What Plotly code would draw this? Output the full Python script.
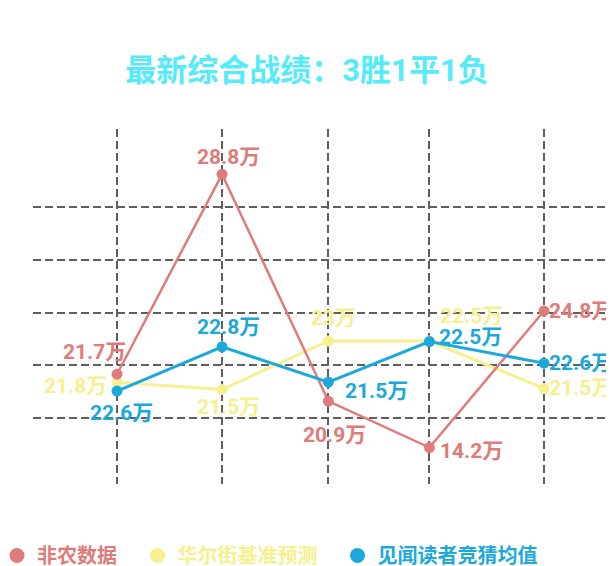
import plotly.graph_objects as go

# ---- data ----
periods = [0, 0.984, 1.98, 2.927, 4]          # release positions along the x axis
series_names = ["非农数据", "华尔街基准预测", "见闻读者竞猜均值"]
nfp_y = [18.3, 56.2, 13.2, 4.4, 30.3]          # plotted level (chart units)
wall_y = [16.8, 15.4, 24.6, 24.6, 15.6]
reader_y = [15.1, 23.5, 16.8, 24.5, 20.4]
nfp_labels = ["21.7万", "28.8万", "20.9万", "14.2万", "24.8万"]
wall_labels = ["21.8万", "21.5万", "23万", "22.5万", "21.5万"]
reader_labels = ["22.6万", "22.8万", "21.5万", "22.5万", "22.6万"]
grid_y = [10, 20, 30, 40, 50]
title_text = "最新综合战绩：3胜1平1负"

# ---- styles ----
RED = "#e07b7b"
YEL = "#f6f08f"
BLU = "#1ba9dc"
TITLE_C = "#55ebf9"
FONT = "Roboto, Noto Sans CJK SC, sans-serif"

# The page body has an 8px margin; the figure is sized to fill the window.
W, H = 606, 558
ML, MR, MT, MB = 25, 0, 121, 82

# label offsets (px) per point: (dx, dy up)
nfp_off = [(-23, 22), (6, 17), (6, -34), (42, -3), (37, 0)]
wall_off = [(-42, -4), (6, -17), (5, 23), (42, 25), (37, 0)]
reader_off = [(4, -22), (6, 20), (48, -9), (41, 5), (37, 0)]

fig = go.Figure()

specs = [
    (series_names[1], wall_y, wall_labels, wall_off, YEL, 3),
    (series_names[0], nfp_y, nfp_labels, nfp_off, RED, 2.5),
    (series_names[2], reader_y, reader_labels, reader_off, BLU, 3),
]
for name, ys, labs, offs, col, lw in specs:
    fig.add_trace(go.Scatter(
        x=periods, y=ys, mode="lines+markers", name=name, legendgroup=name,
        showlegend=False, line=dict(color=col, width=lw),
        marker=dict(color=col, size=11), hoverinfo="skip",
    ))
    for xv, yv, t, (dx, dy) in zip(periods, ys, labs, offs):
        fig.add_annotation(
            x=xv, y=yv, text=f"<b>{t}</b>", showarrow=False,
            xshift=dx, yshift=dy, xanchor="center", yanchor="middle",
            font=dict(family=FONT, size=21, color=col),
        )

# legend-only entries (circle symbols), each in its own legend box
legend_ids = ["legend", "legend2", "legend3"]
legend_x_px = [0, 129.5, 329.5]   # left edge of each legend box, figure px
legend_indent = [-11, 0, 0]
for name, col, lid in zip(series_names, [RED, YEL, BLU], legend_ids):
    fig.add_trace(go.Scatter(
        x=[None], y=[None], mode="markers",
        name=f"<b><span style='color:{col}'>{name}</span></b>",
        legendgroup=name, legend=lid,
        marker=dict(color=col, size=15), showlegend=True,
    ))

leg_common = dict(
    orientation="h", xanchor="left", xref="container",
    y=1 - 547.5 / H, yref="container", yanchor="middle",
    font=dict(family="Noto Sans CJK SC, sans-serif", size=20),
    itemsizing="trace", bgcolor="rgba(0,0,0,0)",
)

fig.update_layout(
    width=W, height=H,
    margin=dict(l=ML, r=MR, t=MT, b=MB),
    paper_bgcolor="white", plot_bgcolor="white",
    title=dict(
        text=f"<b>{title_text}</b>", x=299 / W, xref="container", xanchor="center",
        y=1 - 62 / H, yref="container", yanchor="middle",
        font=dict(family=FONT, size=31, color=TITLE_C),
    ),
    showlegend=True,
    legend=dict(x=legend_x_px[0] / W, indentation=legend_indent[0], **leg_common),
    legend2=dict(x=legend_x_px[1] / W, indentation=legend_indent[1], **leg_common),
    legend3=dict(x=legend_x_px[2] / W, indentation=legend_indent[2], **leg_common),
    xaxis=dict(
        range=[-0.787, 4.656], tickvals=periods, showticklabels=False,
        showgrid=True, gridcolor="#5f5f5f", gridwidth=2, griddash="8px,4px",
        zeroline=False, showline=False, ticks="", fixedrange=True,
    ),
    yaxis=dict(
        range=[-2.51, 64.79], tickvals=grid_y, showticklabels=False,
        showgrid=True, gridcolor="#5f5f5f", gridwidth=2, griddash="8px,4px",
        zeroline=False, showline=False, ticks="", fixedrange=True,
    ),
)

fig.write_html("out.html")
